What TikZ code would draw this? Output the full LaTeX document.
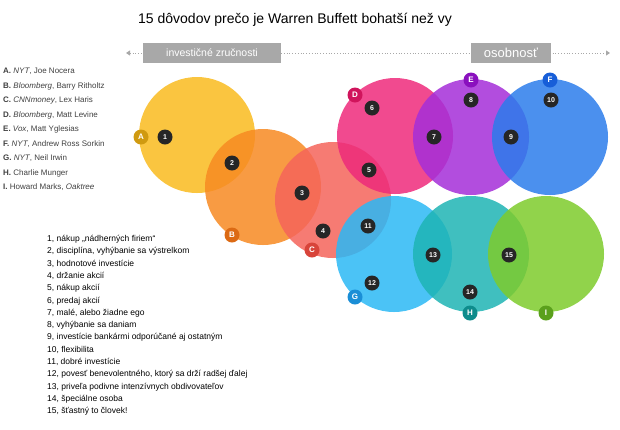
\documentclass[tikz,border=0pt]{standalone}
\usepackage{fontspec}
\setmainfont{Liberation Sans}
\usetikzlibrary{arrows.meta}
\definecolor{cA}{HTML}{F9BB1E}
\definecolor{cB}{HTML}{F78A22}
\definecolor{cC}{HTML}{F5645A}
\definecolor{cD}{HTML}{EE2A7B}
\definecolor{cE}{HTML}{A52ED8}
\definecolor{cF}{HTML}{2B7CEB}
\definecolor{cG}{HTML}{2BB8F5}
\definecolor{cH}{HTML}{1EB4B4}
\definecolor{cI}{HTML}{7ECB2C}
\definecolor{lA}{HTML}{D09A10}
\definecolor{lB}{HTML}{DC6A14}
\definecolor{lC}{HTML}{D8443A}
\definecolor{lD}{HTML}{D0145C}
\definecolor{lE}{HTML}{8A10BE}
\definecolor{lF}{HTML}{175ED8}
\definecolor{lG}{HTML}{1A8ED6}
\definecolor{lH}{HTML}{0E8C8C}
\definecolor{lI}{HTML}{5AA01C}
\definecolor{barg}{HTML}{A8A8A8}
\tikzset{
  bubble/.style={fill=#1, fill opacity=0.85, draw=none},
  tag/.style={circle, fill=#1, text=white, inner sep=0pt, minimum size=15pt, font=\fontsize{8}{8}\selectfont\bfseries},
  num/.style={circle, fill=black!85, text=white, inner sep=0pt, minimum size=15pt, font=\fontsize{7}{7}\selectfont\bfseries},
  headbox/.style={fill=barg, text=white, inner sep=0pt, minimum height=20pt},
  item/.style={anchor=west, inner sep=0pt, font=\fontsize{9}{9}\selectfont}
}
\begin{document}
\begin{tikzpicture}[x=1pt,y=-1pt]
  \useasboundingbox (0,0) rectangle (620,429);
  % title
  \node (title) at (295,20) {\fontsize{14}{14}\selectfont 15 dôvodov prečo je Warren Buffett bohatší než vy};
  % axis
  \coordinate (axl) at (126,53);
  \coordinate (axr) at (610,53);
  \draw[barg, dotted, thick, {Triangle[length=4pt,width=5pt]}-{Triangle[length=4pt,width=5pt]}] (axl) -- (axr);
  \node[headbox, minimum width=138pt, font=\fontsize{10.5}{10.5}\selectfont] (skill) at (212,53) {investičné zručnosti};
  \node[headbox, minimum width=80pt, font=\fontsize{13}{13}\selectfont] (pers) at (511,53) {osobnosť};
  % circles
  \foreach \c/\x/\y in {A/197/135, B/263/187, C/333/200, D/395/136, E/471/137, F/550/137, G/394/254, H/471/254, I/546/254}
    \fill[bubble=c\c] (\x,\y) circle (58);
  % source tags
  \foreach \c/\x/\y in {A/141/137, B/232/235, C/312/250, D/355/95, E/471/80, F/550/80, G/355/297, H/470/313, I/546/313}
    \node[tag=l\c] (tag\c) at (\x,\y) {\c};
  % reasons
  \foreach \n/\x/\y in {1/165/137, 2/232/163, 3/302/193, 4/323/231, 5/369/170, 6/372/108, 7/434/137, 8/471/100, 9/511/137, 10/551/100, 11/368/226, 12/372/283, 13/433/255, 14/470/292, 15/509/255}
    \node[num] (n\n) at (\x,\y) {\n};
  % sources
  \foreach \t [count=\i] in {{\textbf{A.} \textit{NYT}, Joe Nocera}, {\textbf{B.} \textit{Bloomberg}, Barry Ritholtz}, {\textbf{C.} \textit{CNNmoney}, Lex Haris}, {\textbf{D.} \textit{Bloomberg}, Matt Levine}, {\textbf{E.} \textit{Vox}, Matt Yglesias}, {\textbf{F.} \textit{NYT}, Andrew Ross Sorkin}, {\textbf{G.} \textit{NYT}, Neil Irwin}, {\textbf{H.} Charlie Munger}, {\textbf{I.} Howard Marks, \textit{Oaktree}}}
    \node[item, text=black!75, font=\fontsize{8}{8}\selectfont] (src\i) at (3,{57+14.5*\i}) {\t};
  % reason list
  \foreach \t [count=\i] in {{1, nákup „nádherných firiem“}, {2, disciplína, vyhýbanie sa výstrelkom}, {3, hodnotové investície}, {4, držanie akcií}, {5, nákup akcií}, {6, predaj akcií}, {7, malé, alebo žiadne ego}, {8, vyhýbanie sa daniam}, {9, investície bankármi odporúčané aj ostatným}, {10, flexibilita}, {11, dobré investície}, {12, povesť benevolentného, ktorý sa drží radšej ďalej}, {13, priveľa podivne intenzívnych obdivovateľov}, {14, špeciálne osoba}, {15, šťastný to človek!}}
    \node[item, font=\fontsize{8.5}{8.5}\selectfont] (r\i) at (47,{227+12.3*\i}) {\t};
\end{tikzpicture}
\end{document}
